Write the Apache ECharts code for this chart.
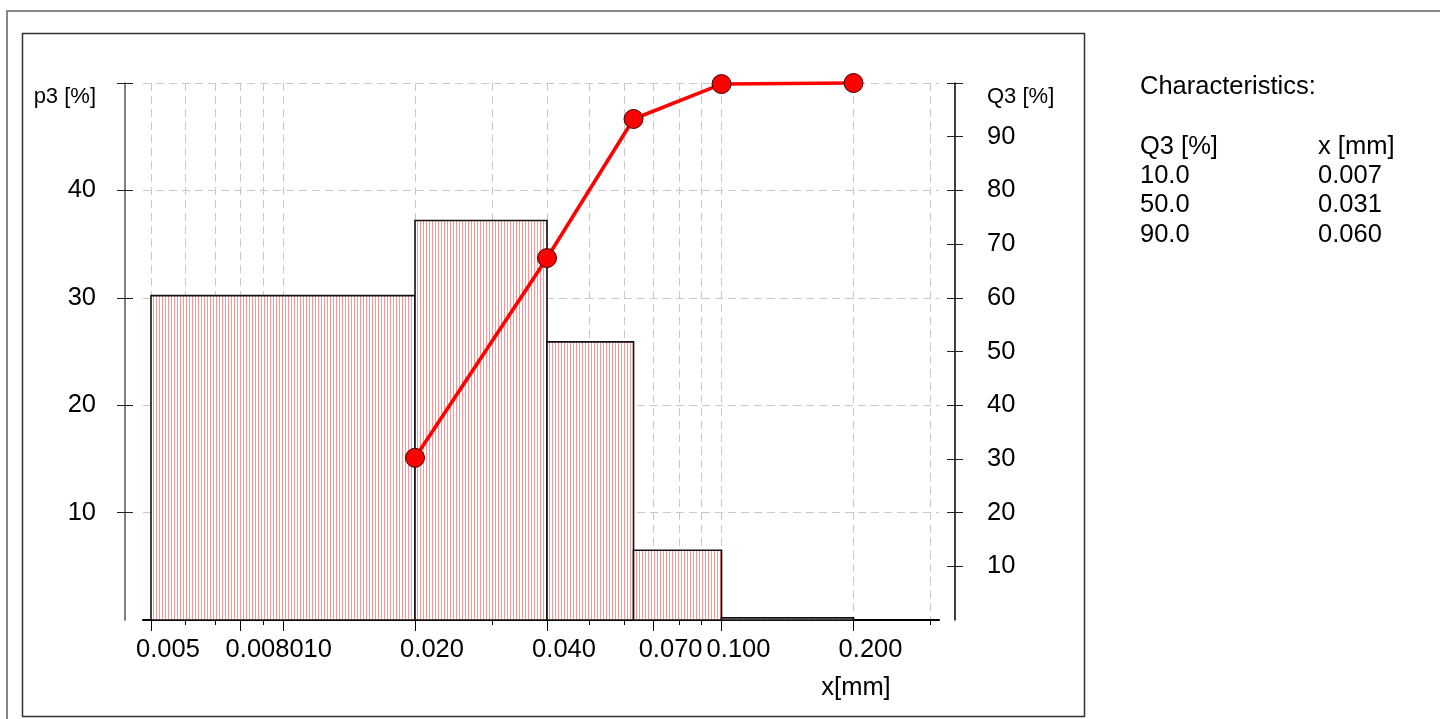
<!DOCTYPE html>
<html>
<head>
<meta charset="utf-8">
<script src="https://cdn.jsdelivr.net/npm/echarts@6/dist/echarts.min.js"></script>
<style>
  html, body { margin: 0; padding: 0; background: #fff; }
  #chart { width: 1440px; height: 719px; }
</style>
</head>
<body>
<div id="chart"></div>
<script>
// Size classes [mm] and density distribution p3 [%]
const classLower = [0.005, 0.020, 0.040, 0.063, 0.100];
const classUpper = [0.020, 0.040, 0.063, 0.100, 0.200];
const p3Values   = [30.2, 37.2, 25.9, 6.5, 0.2];

// Cumulative distribution Q3 [%] at the upper class limits
const q3Sizes  = [0.020, 0.040, 0.063, 0.100, 0.200];
const q3Values = [30.2, 67.4, 93.3, 99.8, 100.0];

// Logarithmic x axis: all ticks, labelled ticks
const xTickValues  = [0.005, 0.006, 0.007, 0.008, 0.009, 0.010, 0.020, 0.030, 0.040,
                      0.050, 0.060, 0.070, 0.080, 0.090, 0.100, 0.200, 0.300];
const xMajorValues = [0.005, 0.008, 0.010, 0.020, 0.040, 0.070, 0.100, 0.200];
const xLabelValues = [0.005, 0.010, 0.020, 0.040, 0.070, 0.100, 0.200];
const xFrontLabel  = [0.008];

// Value axes
const p3Ticks  = [10, 20, 30, 40, 50];
const p3Labels = [10, 20, 30, 40];
const q3Ticks  = [10, 20, 30, 40, 50, 60, 70, 80, 90, 100];
const q3Labels = [10, 20, 30, 40, 50, 60, 70, 80, 90];

// Characteristics table
const charTitle   = 'Characteristics:';
const charHeaders = ['Q3 [%]', 'x [mm]'];
const charQ3      = ['10.0', '50.0', '90.0'];
const charX       = ['0.007', '0.031', '0.060'];

const FONT = "'Liberation Sans', Arial, Helvetica, sans-serif";
const FS = 25.5;
const FS_NAME = 22;

// vertical red hatching on white for the histogram bars
const hatchCanvas = document.createElement('canvas');
hatchCanvas.width = 3;
hatchCanvas.height = 4;
const hctx = hatchCanvas.getContext('2d');
hctx.fillStyle = '#ffffff';
hctx.fillRect(0, 0, 3, 4);
hctx.fillStyle = '#ff9494';
hctx.fillRect(0, 0, 1, 4);
const hatch = { image: hatchCanvas, repeat: 'repeat' };

const fmt3 = v => Number(v).toFixed(3);
const gridDash = { color: '#c8c8c8', width: 1, type: [8, 5] };

const xBase = {
  type: 'log', logBase: 10, min: 0.004794, max: 0.3133,
  position: 'bottom', gridIndex: 0
};

const chart = echarts.init(document.getElementById('chart'), null, { renderer: 'canvas' });

const tableFont = FS + 'px ' + FONT;
const textItem = (x, y, t) => ({
  type: 'text', x: x, y: y, silent: true,
  style: { text: t, font: tableFont, fill: '#000', verticalAlign: 'middle', align: 'left' }
});
const textItems = [textItem(1140, 86.5, charTitle), textItem(1140, 146.5, charHeaders[0]), textItem(1318, 146.5, charHeaders[1])];
charQ3.forEach((t, i) => {
  textItems.push(textItem(1140, 175.5 + i * 29.5, t));
  textItems.push(textItem(1318, 175.5 + i * 29.5, charX[i]));
});

chart.setOption({
  animation: false,
  backgroundColor: '#fff',
  textStyle: { fontFamily: FONT },
  grid: { left: 143, right: 501, top: 83, bottom: 99, containLabel: false },
  graphic: [
    { type: 'rect', shape: { x: 7, y: 11, width: 1460, height: 730 }, style: { fill: 'none', stroke: '#888', lineWidth: 2 }, silent: true },
    { type: 'rect', shape: { x: 22.5, y: 33.5, width: 1062, height: 683 }, style: { fill: 'none', stroke: '#333', lineWidth: 1.5 }, silent: true }
  ].concat(textItems),
  xAxis: [
    // labelled ticks, long
    Object.assign({}, xBase, {
      name: 'x[mm]', nameLocation: 'middle', nameGap: 55,
      nameTextStyle: { fontSize: FS, color: '#000', fontFamily: FONT, align: 'center', padding: [0, 0, 0, 630] },
      axisLine: { show: true, lineStyle: { color: '#000', width: 2 } },
      axisTick: { show: true, customValues: xMajorValues, length: 11, lineStyle: { color: '#000', width: 1 } },
      axisLabel: { show: true, customValues: xLabelValues, formatter: fmt3, margin: 17, fontSize: FS, color: '#000', fontFamily: FONT, padding: [0, 0, 0, 34] },
      splitLine: { show: false }
    }),
    // all ticks, short, with dashed grid
    Object.assign({}, xBase, {
      axisLine: { show: false },
      axisTick: { show: true, customValues: xTickValues, length: 5, lineStyle: { color: '#000', width: 1 } },
      axisLabel: { show: false },
      splitLine: { show: true, lineStyle: gridDash }
    }),
    // 0.008 label, drawn in front of its neighbour
    Object.assign({}, xBase, {
      z: 1,
      axisLine: { show: false },
      axisTick: { show: false },
      axisLabel: {
        show: true, customValues: xFrontLabel, margin: 17, padding: [0, 0, 0, 34],
        formatter: v => '{v|' + fmt3(v) + '}',
        rich: { v: { fontSize: FS, color: '#000', fontFamily: FONT, backgroundColor: '#fff' } }
      },
      splitLine: { show: false }
    })
  ],
  yAxis: [
    {
      type: 'value', min: 0, max: 50, position: 'left', offset: 18,
      name: 'p3 [%]', nameLocation: 'end', nameGap: -14,
      nameTextStyle: { fontSize: FS_NAME, color: '#000', fontFamily: FONT, align: 'right', verticalAlign: 'middle', padding: [0, 29, 0, 0] },
      axisLine: { show: true, lineStyle: { color: '#555', width: 1.5 } },
      axisTick: { show: true, customValues: p3Ticks, length: 8, lineStyle: { color: '#222', width: 1 } },
      axisLabel: { show: true, customValues: p3Labels, margin: 29, fontSize: FS, color: '#000', fontFamily: FONT },
      splitLine: { show: true, lineStyle: gridDash }
    },
    {
      type: 'value', min: 0, max: 100, position: 'right', offset: 16,
      name: 'Q3 [%]', nameLocation: 'end', nameGap: -14,
      nameTextStyle: { fontSize: FS_NAME, color: '#000', fontFamily: FONT, align: 'left', verticalAlign: 'middle', padding: [0, 0, 0, 32] },
      axisLine: { show: true, lineStyle: { color: '#000', width: 1.5 } },
      axisTick: { show: true, customValues: q3Ticks, length: 8, lineStyle: { color: '#222', width: 1 } },
      axisLabel: { show: true, customValues: q3Labels, margin: 32, fontSize: FS, color: '#000', fontFamily: FONT },
      splitLine: { show: false }
    },
    {
      type: 'value', min: 0, max: 50, position: 'left', offset: 18,
      axisLine: { show: false },
      axisTick: { show: true, inside: true, customValues: p3Ticks, length: 8, lineStyle: { color: '#222', width: 1 } },
      axisLabel: { show: false }, splitLine: { show: false }
    },
    {
      type: 'value', min: 0, max: 100, position: 'right', offset: 16,
      axisLine: { show: false },
      axisTick: { show: true, inside: true, customValues: q3Ticks, length: 8, lineStyle: { color: '#222', width: 1 } },
      axisLabel: { show: false }, splitLine: { show: false }
    }
  ],
  series: [
    {
      type: 'custom',
      name: 'p3',
      xAxisIndex: 0, yAxisIndex: 0,
      encode: { x: [0, 1], y: 2 },
      data: classLower.map((lo, i) => [lo, classUpper[i], p3Values[i]]),
      renderItem: function (params, api) {
        const tl = api.coord([api.value(0), api.value(2)]);
        const br = api.coord([api.value(1), 0]);
        return {
          type: 'rect',
          shape: { x: tl[0], y: tl[1], width: br[0] - tl[0], height: br[1] - tl[1] },
          style: { fill: hatch, stroke: '#111', lineWidth: 1.6 }
        };
      },
      z: 3
    },
    {
      type: 'line',
      name: 'Q3',
      xAxisIndex: 0, yAxisIndex: 1,
      data: q3Sizes.map((x, i) => [x, q3Values[i]]),
      symbol: 'circle', symbolSize: 19,
      itemStyle: { color: '#ff0000', borderColor: '#3a0000', borderWidth: 1 },
      lineStyle: { color: '#ff0000', width: 3.6 },
      clip: false,
      z: 5
    }
  ]
});
</script>
</body>
</html>
